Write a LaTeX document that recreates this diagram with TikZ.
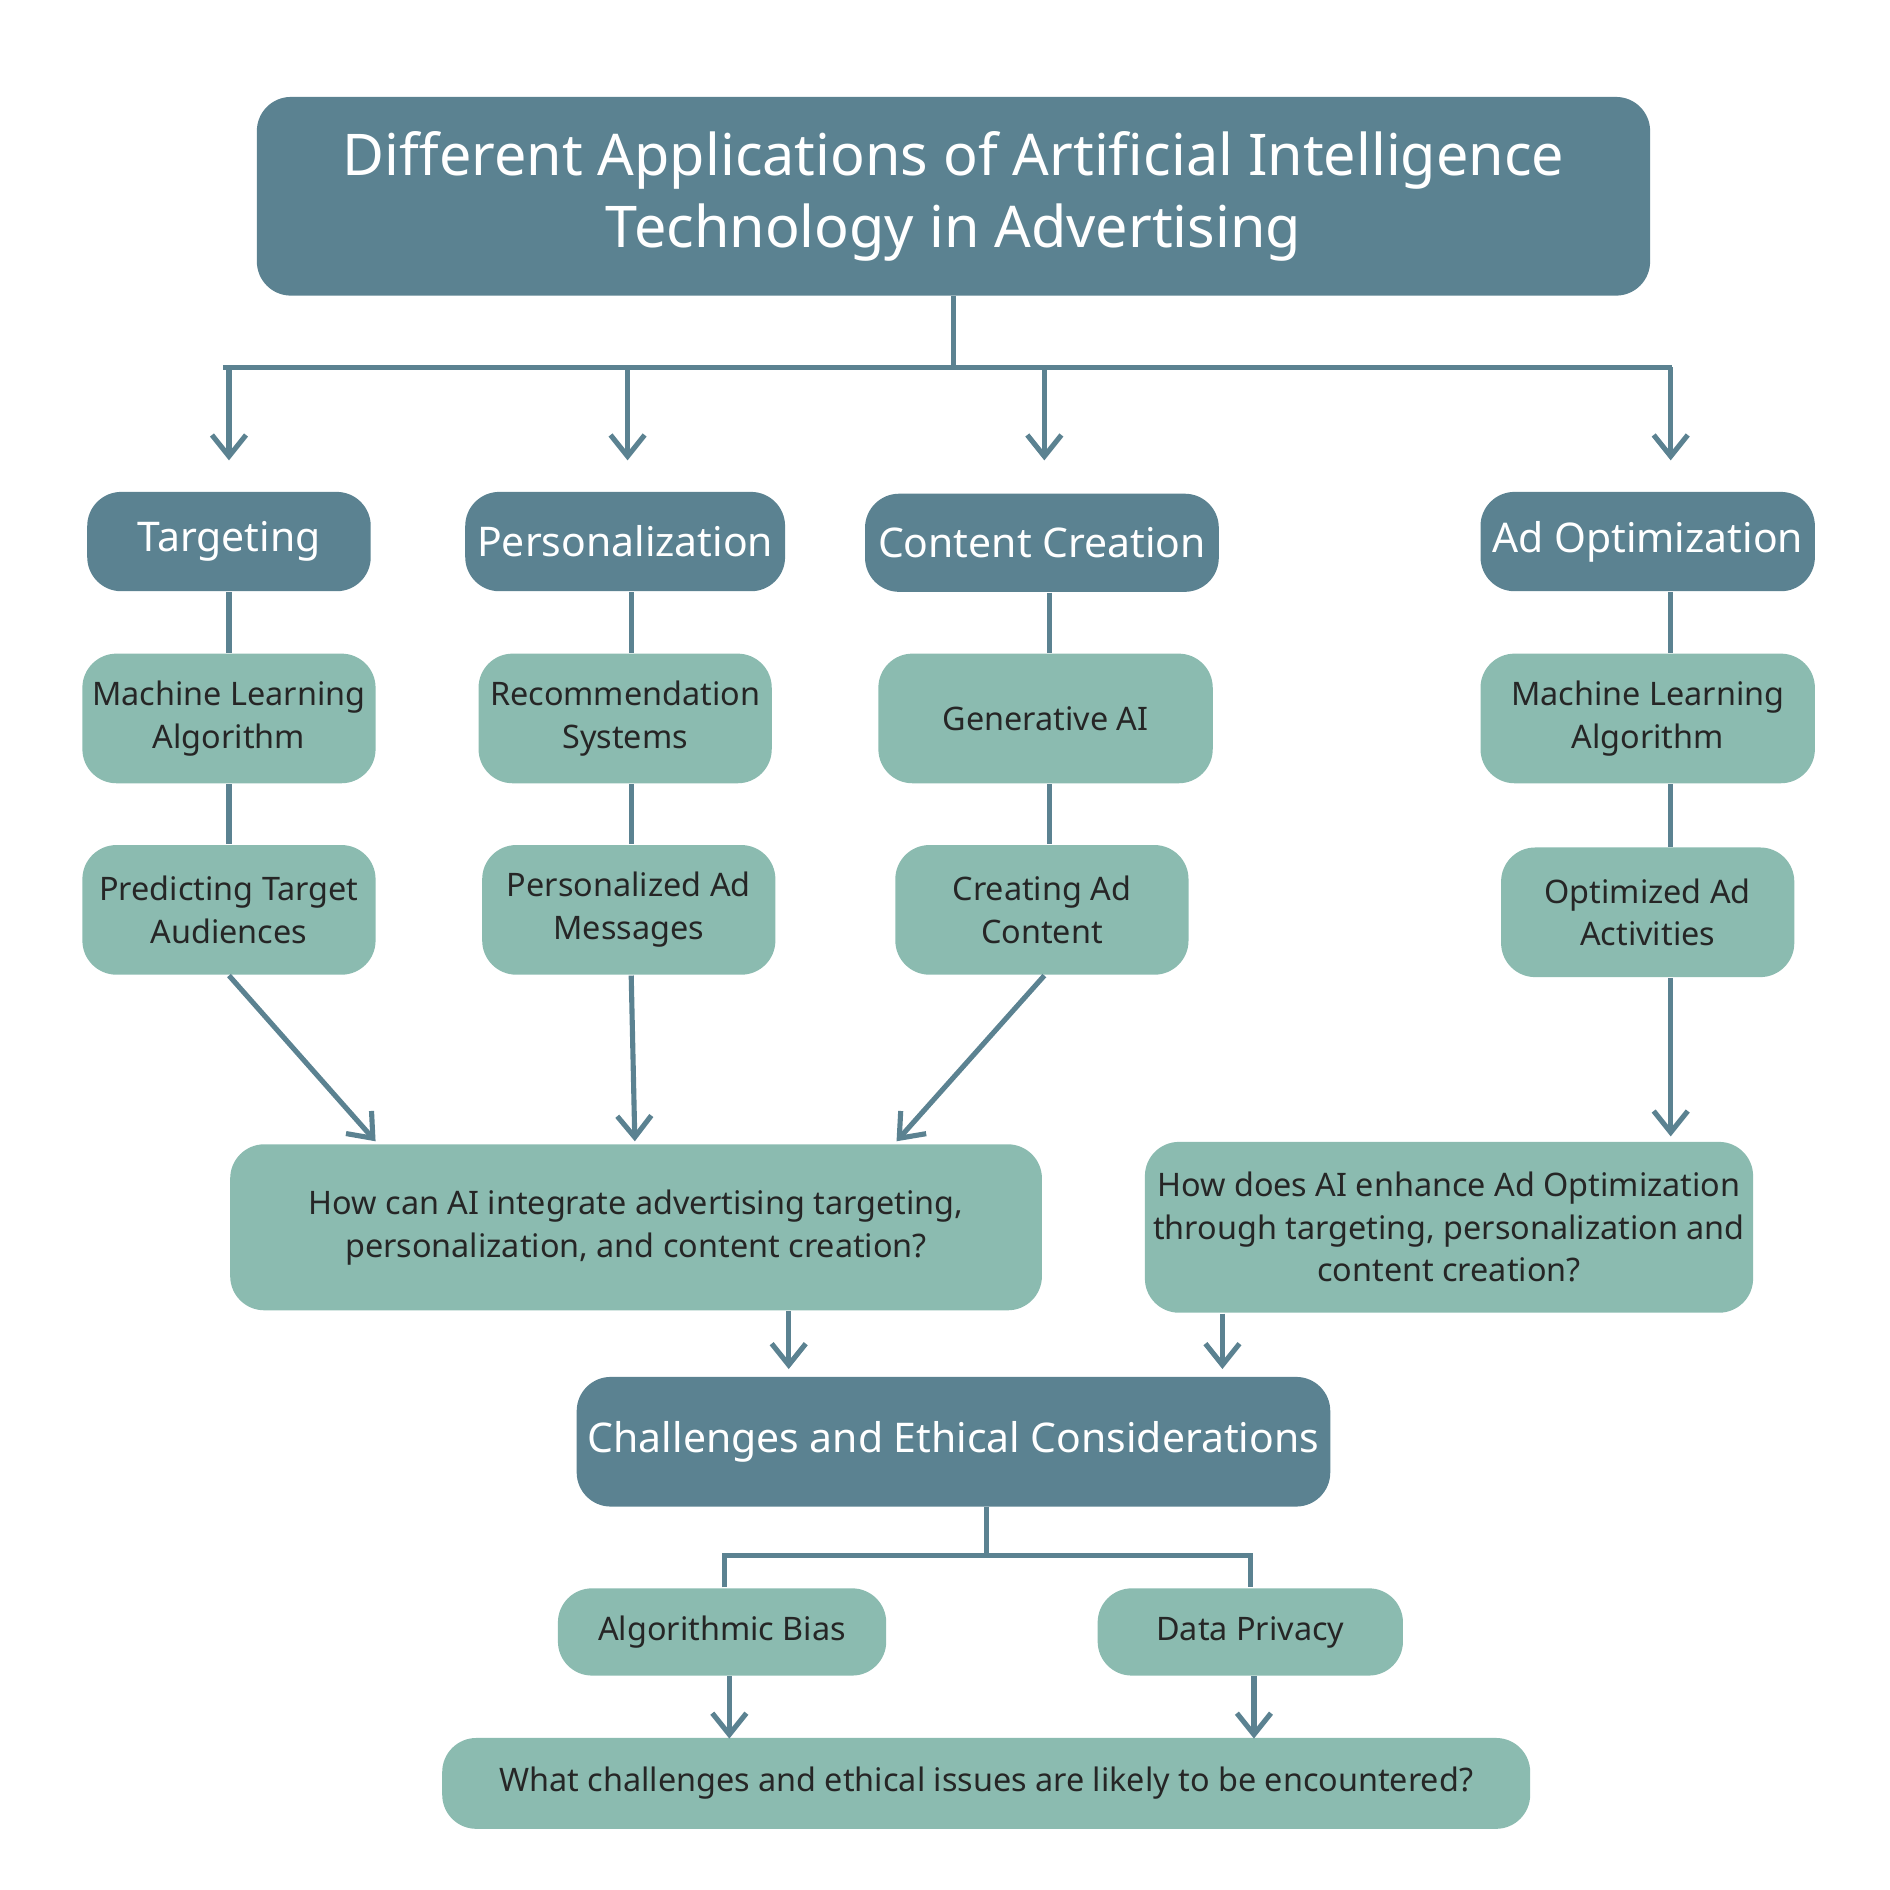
\documentclass[tikz,border=0pt]{standalone}
\usepackage{fontspec}
\setmainfont{Noto Sans}
\usetikzlibrary{arrows.meta}
\definecolor{dk}{HTML}{5B8291}
\definecolor{lt}{HTML}{8BBBB0}
\begin{document}
\begin{tikzpicture}[x=0.01cm,y=-0.01cm,
 box/.style={rounded corners=8pt,align=center,inner sep=0pt},
 wh/.style 2 args={minimum width=#1*0.01cm,minimum height=#2*0.01cm},
 head/.style={box,fill=dk,text=white,font=\fontsize{9.6}{12}\selectfont},
 sub/.style={box,fill=lt,text=black!85,font=\fontsize{7.6}{10}\selectfont},
 ln/.style={draw=dk,line width=1.2pt},
 ar/.style={ln,-{Straight Barb[length=5pt,width=8pt,line width=1.2pt]}}]
\useasboundingbox (0,0) rectangle (1560,1560);
\node[head,wh={1150}{164},font=\fontsize{13.5}{17}\selectfont] (t) at (787,162) {Different Applications of Artificial Intelligence\\Technology in Advertising};
\node[head,wh={234}{82}] (c1) at (189,447) {Targeting};
\node[head,wh={264}{82}] (c2) at (516,447) {Personalization};
\node[head,wh={292}{81}] (c3) at (860,448) {Content Creation};
\node[head,wh={276}{82}] (c4) at (1360,447) {Ad Optimization};
\node[sub,wh={242}{107}] (m1) at (189,593) {Machine Learning\\Algorithm};
\node[sub,wh={242}{107}] (m2) at (516,593) {Recommendation\\Systems};
\node[sub,wh={276}{107}] (m3) at (863,593) {Generative AI};
\node[sub,wh={276}{107}] (m4) at (1360,593) {Machine Learning\\Algorithm};
\node[sub,wh={242}{107}] (p1) at (189,751) {Predicting Target\\Audiences};
\node[sub,wh={242}{107}] (p2) at (519,751) {Personalized Ad\\Messages};
\node[sub,wh={242}{107}] (p3) at (860,751) {Creating Ad\\Content};
\node[sub,wh={242}{107}] (p4) at (1360,753) {Optimized Ad\\Activities};
\node[sub,wh={670}{137}] (q1) at (525,1013) {How can AI integrate advertising targeting,\\personalization, and content creation?};
\node[sub,wh={502}{141}] (q2) at (1196,1013) {How does AI enhance Ad Optimization\\through targeting, personalization and\\content creation?};
\node[head,wh={622}{107}] (ch) at (787,1190) {Challenges and Ethical Considerations};
\node[sub,wh={271}{72}] (b1) at (596,1347) {Algorithmic Bias};
\node[sub,wh={252}{72}] (b2) at (1032,1347) {Data Privacy};
\node[sub,wh={898}{75}] (f) at (814,1472) {What challenges and ethical issues are likely to be encountered?};
% helper x positions
\foreach \x in {189,518,521,524,602,651,787,814,862,866,1009,1032,1035,1379}{\coordinate (x\x) at (\x,0);}
% top tree
\coordinate (j) at (787,303);
\coordinate (h1) at (184,303); \coordinate (h4) at (1380,303);
\draw[ln] (t.south) -- (j);
\draw[ln] (h1) -- (h4);
\foreach \x/\n in {189/a1,518/a2,862/a3,1379/a4}{
 \coordinate (\n s) at (\x,303); \coordinate (\n e) at (\x,380);
 \draw[ar] (\n s) -- (\n e);}
\draw[ln] (c1.south) -- (m1.north) (m1.south) -- (p1.north);
\draw[ln] (c2.south-|x521) -- (m2.north-|x521) (m2.south-|x521) -- (p2.north-|x521);
\draw[ln] (c3.south-|x866) -- (m3.north-|x866) (m3.south-|x866) -- (p3.north-|x866);
\draw[ln] (c4.south-|x1379) -- (m4.north-|x1379) (m4.south-|x1379) -- (p4.north-|x1379);
\coordinate (e1) at (310,942); \coordinate (e2) at (524,942); \coordinate (e3) at (740,942); \coordinate (e4) at (1379,938);
\draw[ar] (p1.south) -- (e1);
\draw[ar] (p2.south-|x521) -- (e2);
\draw[ar] (p3.south-|x862) -- (e3);
\draw[ar] (p4.south-|x1379) -- (e4);
\coordinate (g1) at (651,1130); \coordinate (g2) at (1009,1130);
\draw[ar] (q1.south-|g1) -- (g1);
\draw[ar] (q2.south-|g2) -- (g2);
\coordinate (k) at (814,1284); \coordinate (k1) at (598,1284); \coordinate (k2) at (1032,1284);
\draw[ln] (ch.south-|k) -- (k);
\draw[ln] (b1.north-|k1) -- (k1) -- (k2) -- (b2.north-|k2);
\coordinate (r1) at (602,1435); \coordinate (r2) at (1035,1435);
\draw[ar] (b1.south-|r1) -- (r1);
\draw[ar] (b2.south-|r2) -- (r2);
\end{tikzpicture}
\end{document}
